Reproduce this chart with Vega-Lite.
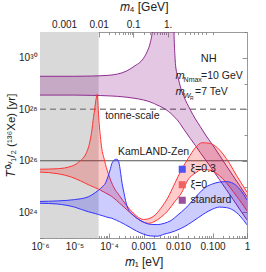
{
  "$schema": "https://vega.github.io/schema/vega-lite/v6.json",
  "width": 207,
  "height": 206,
  "autosize": "none",
  "padding": {"left": 40, "top": 32, "right": 19, "bottom": 34},
  "config": {
    "view": {"stroke": "#9a9a9a", "strokeWidth": 1},
    "font": "Liberation Sans",
    "axis": {"domain": false, "grid": false, "tickColor": "#7a7a7a", "tickWidth": 0.8, "labelColor": "#222", "labelFont": "Liberation Sans", "labelFontSize": 10, "titleFont": "Liberation Sans", "titleFontWeight": "normal", "titleFontSize": 12, "titleColor": "#222", "labelOverlap": false, "labelFlush": false, "labelBound": false}
  },
  "datasets": {
    "red": [
      {"m": -6, "lo": 25.56, "hi": 25.67}, {"m": -5.5, "lo": 25.5, "hi": 25.69}, {"m": -5.08, "lo": 25.36, "hi": 25.79},
      {"m": -4.83, "lo": 25.22, "hi": 26.0}, {"m": -4.69, "lo": 25.13, "hi": 26.22}, {"m": -4.6, "lo": 25.07, "hi": 26.5},
      {"m": -4.545, "lo": 25.04, "hi": 26.8}, {"m": -4.5, "lo": 25.01, "hi": 27.15}, {"m": -4.45, "lo": 24.98, "hi": 27.68},
      {"m": -4.41, "lo": 24.96, "hi": 28.05}, {"m": -4.38, "lo": 24.94, "hi": 28.35}, {"m": -4.34, "lo": 24.92, "hi": 28.59},
      {"m": -4.31, "lo": 24.9, "hi": 27.95}, {"m": -4.285, "lo": 24.89, "hi": 27.45}, {"m": -4.25, "lo": 24.86, "hi": 26.95},
      {"m": -4.21, "lo": 24.83, "hi": 26.48}, {"m": -4.15, "lo": 24.79, "hi": 26.12}, {"m": -4.1, "lo": 24.75, "hi": 25.85},
      {"m": -4.0, "lo": 24.68, "hi": 25.42}, {"m": -3.87, "lo": 24.56, "hi": 24.99}, {"m": -3.7, "lo": 24.36, "hi": 24.65},
      {"m": -3.5, "lo": 24.12, "hi": 24.28}, {"m": -3.3, "lo": 23.88, "hi": 23.97}, {"m": -3.14, "lo": 23.72, "hi": 23.79},
      {"m": -3.0, "lo": 23.61, "hi": 23.72}, {"m": -2.85, "lo": 23.57, "hi": 23.75}, {"m": -2.7, "lo": 23.63, "hi": 23.85},
      {"m": -2.5, "lo": 23.8, "hi": 24.15}, {"m": -2.3, "lo": 24.05, "hi": 24.55}, {"m": -2.1, "lo": 24.4, "hi": 25.1},
      {"m": -1.9, "lo": 24.75, "hi": 25.65}, {"m": -1.7, "lo": 25.28, "hi": 26.1}, {"m": -1.5, "lo": 25.52, "hi": 26.5},
      {"m": -1.3, "lo": 25.66, "hi": 26.7}, {"m": -1.1, "lo": 25.64, "hi": 26.68}, {"m": -0.9, "lo": 25.52, "hi": 26.55},
      {"m": -0.7, "lo": 25.3, "hi": 26.27}, {"m": -0.5, "lo": 24.98, "hi": 25.88}, {"m": -0.3, "lo": 24.62, "hi": 25.42},
      {"m": -0.15, "lo": 24.35, "hi": 25.1}, {"m": 0, "lo": 24.05, "hi": 24.78}
    ],
    "blue": [
      {"m": -6, "lo": 24.35, "hi": 24.42}, {"m": -5.5, "lo": 24.32, "hi": 24.44}, {"m": -5.0, "lo": 24.2, "hi": 24.49},
      {"m": -4.6, "lo": 24.02, "hi": 24.6}, {"m": -4.4, "lo": 23.95, "hi": 24.76}, {"m": -4.3, "lo": 23.91, "hi": 24.86},
      {"m": -4.2, "lo": 23.87, "hi": 24.98}, {"m": -4.1, "lo": 23.83, "hi": 25.14}, {"m": -4.03, "lo": 23.8, "hi": 25.38},
      {"m": -3.97, "lo": 23.78, "hi": 25.64}, {"m": -3.92, "lo": 23.77, "hi": 25.88}, {"m": -3.87, "lo": 23.74, "hi": 26.0},
      {"m": -3.82, "lo": 23.71, "hi": 26.05}, {"m": -3.78, "lo": 23.69, "hi": 26.06}, {"m": -3.74, "lo": 23.66, "hi": 26.03},
      {"m": -3.7, "lo": 23.64, "hi": 25.85}, {"m": -3.66, "lo": 23.61, "hi": 25.5}, {"m": -3.62, "lo": 23.58, "hi": 25.12},
      {"m": -3.57, "lo": 23.55, "hi": 24.78}, {"m": -3.52, "lo": 23.51, "hi": 24.45}, {"m": -3.45, "lo": 23.46, "hi": 24.14},
      {"m": -3.35, "lo": 23.38, "hi": 23.96}, {"m": -3.2, "lo": 23.27, "hi": 23.78}, {"m": -3.0, "lo": 23.15, "hi": 23.62},
      {"m": -2.8, "lo": 23.08, "hi": 23.53}, {"m": -2.6, "lo": 23.07, "hi": 23.52}, {"m": -2.4, "lo": 23.15, "hi": 23.57},
      {"m": -2.2, "lo": 23.22, "hi": 23.68}, {"m": -2.0, "lo": 23.32, "hi": 23.9}, {"m": -1.8, "lo": 23.45, "hi": 24.13},
      {"m": -1.6, "lo": 23.62, "hi": 24.42}, {"m": -1.4, "lo": 23.8, "hi": 24.72}, {"m": -1.2, "lo": 23.98, "hi": 24.97},
      {"m": -1.0, "lo": 24.12, "hi": 25.1}, {"m": -0.8, "lo": 24.2, "hi": 25.17}, {"m": -0.6, "lo": 24.18, "hi": 25.19},
      {"m": -0.4, "lo": 24.08, "hi": 25.12}, {"m": -0.2, "lo": 23.85, "hi": 24.88}, {"m": 0, "lo": 23.51, "hi": 24.48}
    ],
    "purple": [
      {"m": -6, "lo": 28.55, "hi": 29.28}, {"m": -5, "lo": 28.55, "hi": 29.28}, {"m": -4.5, "lo": 28.54, "hi": 29.29},
      {"m": -4, "lo": 28.52, "hi": 29.32}, {"m": -3.5, "lo": 28.47, "hi": 29.48}, {"m": -3.28, "lo": 28.43, "hi": 29.66},
      {"m": -3.0, "lo": 28.36, "hi": 29.98}, {"m": -2.89, "lo": 28.32, "hi": 30.25}, {"m": -2.8, "lo": 28.28, "hi": 30.6},
      {"m": -2.75, "lo": 28.25, "hi": 30.95}, {"m": -2.72, "lo": 28.24, "hi": 31.3}, {"m": -2.69, "lo": 28.22, "hi": 32.0},
      {"m": -2.66, "lo": 28.2, "hi": 33.0}, {"m": -2.4, "lo": 28.03, "hi": 33.0}, {"m": -2.16, "lo": 27.78, "hi": 33.0},
      {"m": -2.13, "lo": 27.74, "hi": 32.0}, {"m": -2.11, "lo": 27.71, "hi": 30.7}, {"m": -2.09, "lo": 27.68, "hi": 30.1},
      {"m": -2.07, "lo": 27.65, "hi": 29.7}, {"m": -2.0, "lo": 27.55, "hi": 29.25}, {"m": -1.93, "lo": 27.42, "hi": 28.87},
      {"m": -1.83, "lo": 27.22, "hi": 28.5}, {"m": -1.64, "lo": 26.86, "hi": 27.97}, {"m": -1.5, "lo": 26.6, "hi": 27.63},
      {"m": -1.35, "lo": 26.31, "hi": 27.32}, {"m": -1.2, "lo": 26.03, "hi": 27.0}, {"m": -1.0, "lo": 25.66, "hi": 26.62},
      {"m": -0.8, "lo": 25.27, "hi": 26.22}, {"m": -0.6, "lo": 24.88, "hi": 25.81}, {"m": -0.4, "lo": 24.49, "hi": 25.41},
      {"m": -0.2, "lo": 24.09, "hi": 25.01}, {"m": 0, "lo": 23.7, "hi": 24.6}
    ]
  },
  "resolve": {"axis": {"x": "independent", "y": "independent"}},
  "layer": [
    {
      "data": {"values": [{"from": -6, "to": -4.301}]},
      "mark": {"type": "rect", "color": "#d9d9d9"},
      "encoding": {
        "x": {"field": "from", "type": "quantitative", "scale": {"domain": [-6, 0], "nice": false, "zero": false},
          "axis": {"orient": "bottom", "title": "𝑚₁ [eV]", "titlePadding": 3,
            "values": [-6, -5.69897, -5.52288, -5.39794, -5.30103, -5.22185, -5.1549, -5.09691, -5.04576,
                       -5, -4.69897, -4.52288, -4.39794, -4.30103, -4.22185, -4.1549, -4.09691, -4.04576,
                       -4, -3.69897, -3.52288, -3.39794, -3.30103, -3.22185, -3.1549, -3.09691, -3.04576,
                       -3, -2.69897, -2.52288, -2.39794, -2.30103, -2.22185, -2.1549, -2.09691, -2.04576,
                       -2, -1.69897, -1.52288, -1.39794, -1.30103, -1.22185, -1.1549, -1.09691, -1.04576,
                       -1, -0.69897, -0.52288, -0.39794, -0.30103, -0.22185, -0.1549, -0.09691, -0.04576, 0],
            "labelExpr": "datum.value == -6 ? '10⁻⁶' : datum.value == -5 ? '10⁻⁵' : datum.value == -4 ? '10⁻⁴' : datum.value == -3 ? '0.001' : datum.value == -2 ? '0.010' : datum.value == -1 ? '0.100' : datum.value == 0 ? '1' : ''",
            "tickSize": {"condition": {"test": "datum.value == round(datum.value)", "value": -5}, "value": -2.5},
            "labelPadding": 8}},
        "x2": {"field": "to"},
        "y": {"datum": 23, "type": "quantitative", "scale": {"domain": [23, 31], "nice": false, "zero": false},
          "axis": {"orient": "left", "title": "𝑇⁰ᵛ₁/₂ (¹³⁶Xe) [yr]", "titlePadding": 2, "titleFontSize": 11.5,
            "values": [23, 24, 25, 26, 27, 28, 29, 30, 31],
            "labelExpr": "datum.value == 24 ? '10²⁴' : datum.value == 26 ? '10²⁶' : datum.value == 28 ? '10²⁸' : datum.value == 30 ? '10³⁰' : ''",
            "tickSize": {"condition": {"test": "datum.value % 2 == 0", "value": -5}, "value": -3},
            "labelPadding": 8}},
        "y2": {"datum": 31}
      }
    },
    {
      "data": {"values": [{"T": 28}]},
      "mark": {"type": "rule", "color": "#8a8a8a", "strokeDash": [6, 4], "strokeWidth": 1.3},
      "encoding": {
        "x": {"datum": -6, "type": "quantitative",
          "axis": {"orient": "top", "title": "𝑚₄ [GeV]", "titlePadding": 3,
            "values": [-6, -5.82391, -5.69897, -5.60206, -5.52288, -5.45593, -5.39794, -5.34679, -5.30103,
                       -5, -4.82391, -4.69897, -4.60206, -4.52288, -4.45593, -4.39794, -4.34679, -4.30103,
                       -4, -3.82391, -3.69897, -3.60206, -3.52288, -3.45593, -3.39794, -3.34679, -3.30101,
                       -2.99991, -2.8237, -2.69862, -2.60152, -2.5221, -2.45487, -2.39655, -2.34502, -2.29886,
                       -1.99114, -1.80343, -1.6611, -1.53959, -1.42597, -1.30972, -1.17607, -0.98615],
            "labelExpr": "abs(datum.value + 5.30103) < 0.0001 ? '0.001' : abs(datum.value + 4.30103) < 0.0001 ? '0.01' : abs(datum.value + 3.30101) < 0.0001 ? '0.1' : abs(datum.value + 2.29886) < 0.0001 ? '1.' : ''",
            "tickSize": {"condition": {"test": "abs(datum.value + 5.30103) < 0.0001 || abs(datum.value + 4.30103) < 0.0001 || abs(datum.value + 3.30101) < 0.0001 || abs(datum.value + 2.29886) < 0.0001", "value": -5}, "value": -2.5},
            "labelPadding": 8}},
        "x2": {"datum": 0},
        "y": {"field": "T", "type": "quantitative",
          "axis": {"orient": "right", "title": null, "labels": false,
            "values": [23, 24, 25, 26, 27, 28, 29, 30, 31],
            "tickSize": {"condition": {"test": "datum.value % 2 == 0", "value": -5}, "value": -3}}}
      }
    },
    {
      "data": {"values": [{"T": 26}]},
      "mark": {"type": "rule", "color": "#555", "strokeWidth": 1.1},
      "encoding": {
        "x": {"datum": -6, "type": "quantitative", "axis": null},
        "x2": {"datum": 0},
        "y": {"field": "T", "type": "quantitative", "axis": null}
      }
    },
    {
      "data": {"name": "purple"},
      "layer": [
        {"mark": {"type": "area", "color": "#800080", "opacity": 0.22, "interpolate": "monotone", "clip": true},
         "encoding": {"x": {"field": "m", "type": "quantitative", "axis": null}, "y": {"field": "lo", "type": "quantitative", "axis": null}, "y2": {"field": "hi"}}},
        {"mark": {"type": "line", "color": "#8e2b8e", "strokeWidth": 1, "interpolate": "monotone", "clip": true},
         "encoding": {"x": {"field": "m", "type": "quantitative", "axis": null}, "y": {"field": "lo", "type": "quantitative", "axis": null}}},
        {"mark": {"type": "line", "color": "#8e2b8e", "strokeWidth": 1, "interpolate": "monotone", "clip": true},
         "encoding": {"x": {"field": "m", "type": "quantitative", "axis": null}, "y": {"field": "hi", "type": "quantitative", "axis": null}}}
      ]
    },
    {
      "data": {"name": "red"},
      "layer": [
        {"mark": {"type": "area", "color": "#ff0000", "opacity": 0.2, "interpolate": "monotone", "clip": true},
         "encoding": {"x": {"field": "m", "type": "quantitative", "axis": null}, "y": {"field": "lo", "type": "quantitative", "axis": null}, "y2": {"field": "hi"}}},
        {"mark": {"type": "line", "color": "#ff3333", "strokeWidth": 1, "interpolate": "monotone", "clip": true},
         "encoding": {"x": {"field": "m", "type": "quantitative", "axis": null}, "y": {"field": "lo", "type": "quantitative", "axis": null}}},
        {"mark": {"type": "line", "color": "#ff3333", "strokeWidth": 1, "interpolate": "monotone", "clip": true},
         "encoding": {"x": {"field": "m", "type": "quantitative", "axis": null}, "y": {"field": "hi", "type": "quantitative", "axis": null}}}
      ]
    },
    {
      "data": {"name": "blue"},
      "layer": [
        {"mark": {"type": "area", "color": "#0000ff", "opacity": 0.2, "interpolate": "monotone", "clip": true},
         "encoding": {"x": {"field": "m", "type": "quantitative", "axis": null}, "y": {"field": "lo", "type": "quantitative", "axis": null}, "y2": {"field": "hi"}}},
        {"mark": {"type": "line", "color": "#3333ff", "strokeWidth": 1, "interpolate": "monotone", "clip": true},
         "encoding": {"x": {"field": "m", "type": "quantitative", "axis": null}, "y": {"field": "lo", "type": "quantitative", "axis": null}}},
        {"mark": {"type": "line", "color": "#3333ff", "strokeWidth": 1, "interpolate": "monotone", "clip": true},
         "encoding": {"x": {"field": "m", "type": "quantitative", "axis": null}, "y": {"field": "hi", "type": "quantitative", "axis": null}}}
      ]
    },
    {
      "data": {"values": [{"m": -4.11, "T": 27.63, "label": "tonne-scale"}, {"m": -3.74, "T": 26.22, "label": "KamLAND-Zen"}]},
      "mark": {"type": "text", "align": "left", "baseline": "alphabetic", "fontSize": 10.5, "color": "#222"},
      "encoding": {"x": {"field": "m", "type": "quantitative", "axis": null}, "y": {"field": "T", "type": "quantitative", "axis": null}, "text": {"field": "label"}}
    },
    {
      "data": {"values": [{"m": -1.11, "T": 29.84, "label": "NH"}]},
      "mark": {"type": "text", "align": "center", "baseline": "alphabetic", "fontSize": 11, "color": "#222"},
      "encoding": {"x": {"field": "m", "type": "quantitative", "axis": null}, "y": {"field": "T", "type": "quantitative", "axis": null}, "text": {"field": "label"}}
    },
    {
      "data": {"values": [{"m": -2.07, "T": 29.19, "label": "m"}, {"m": -2.07, "T": 28.56, "label": "m"}]},
      "mark": {"type": "text", "align": "left", "baseline": "alphabetic", "fontSize": 11, "fontStyle": "italic", "color": "#222"},
      "encoding": {"x": {"field": "m", "type": "quantitative", "axis": null}, "y": {"field": "T", "type": "quantitative", "axis": null}, "text": {"field": "label"}}
    },
    {
      "data": {"values": [{"m": -2.07, "T": 29.19, "label": "Nmax"}]},
      "mark": {"type": "text", "align": "left", "baseline": "alphabetic", "fontSize": 7, "dx": 8, "dy": 3, "color": "#222"},
      "encoding": {"x": {"field": "m", "type": "quantitative", "axis": null}, "y": {"field": "T", "type": "quantitative", "axis": null}, "text": {"field": "label"}}
    },
    {
      "data": {"values": [{"m": -2.07, "T": 29.19, "label": "=10 GeV"}]},
      "mark": {"type": "text", "align": "left", "baseline": "alphabetic", "fontSize": 10.5, "dx": 25.5, "color": "#222"},
      "encoding": {"x": {"field": "m", "type": "quantitative", "axis": null}, "y": {"field": "T", "type": "quantitative", "axis": null}, "text": {"field": "label"}}
    },
    {
      "data": {"values": [{"m": -2.07, "T": 28.56, "label": "=7 TeV"}]},
      "mark": {"type": "text", "align": "left", "baseline": "alphabetic", "fontSize": 10.5, "dx": 19.5, "color": "#222"},
      "encoding": {"x": {"field": "m", "type": "quantitative", "axis": null}, "y": {"field": "T", "type": "quantitative", "axis": null}, "text": {"field": "label"}}
    },
    {
      "data": {"values": [{"m": -2.07, "T": 28.56, "label": "W"}]},
      "mark": {"type": "text", "align": "left", "baseline": "alphabetic", "fontSize": 7.5, "fontStyle": "italic", "dx": 8, "dy": 3, "color": "#222"},
      "encoding": {"x": {"field": "m", "type": "quantitative", "axis": null}, "y": {"field": "T", "type": "quantitative", "axis": null}, "text": {"field": "label"}}
    },
    {
      "data": {"values": [{"m": -2.07, "T": 28.56, "label": "R"}]},
      "mark": {"type": "text", "align": "left", "baseline": "alphabetic", "fontSize": 5, "dx": 14.5, "dy": 5, "color": "#222"},
      "encoding": {"x": {"field": "m", "type": "quantitative", "axis": null}, "y": {"field": "T", "type": "quantitative", "axis": null}, "text": {"field": "label"}}
    },
    {
      "data": {"values": []},
      "mark": {"type": "square", "filled": true},
      "encoding": {
        "color": {"field": "band", "type": "nominal",
          "scale": {"domain": ["ξ=0.3", "ξ=0", "standard"], "range": ["#5252f2", "#f26060", "#9c4f9c"]},
          "legend": {"orient": "none", "legendX": 137, "legendY": 132, "title": null, "symbolType": "square", "symbolSize": 50, "symbolStrokeWidth": 0, "symbolOpacity": 1, "labelFontSize": 10.5, "labelColor": "#222", "labelFont": "Liberation Sans", "rowPadding": 4.5, "labelOffset": 3}}
      }
    }
  ]
}
